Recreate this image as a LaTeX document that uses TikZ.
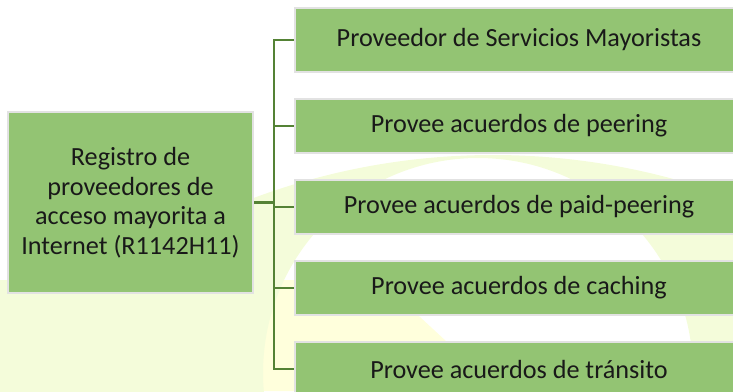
\documentclass[tikz,border=0pt]{standalone}
\usepackage{fontspec}
\setmainfont{Carlito}
\definecolor{boxgreen}{RGB}{147,196,115}
\definecolor{boxedge}{RGB}{226,226,226}
\definecolor{linegreen}{RGB}{84,130,53}
\definecolor{wmpale}{RGB}{244,252,218}
\definecolor{wmband}{RGB}{234,247,220}
\definecolor{wmyellow}{RGB}{255,255,220}
\begin{document}
\begin{tikzpicture}[x=1pt,y=-1pt]
\tikzstyle{b} = [rectangle, fill=boxgreen, draw=boxedge, line width=2pt, inner sep=0pt, text=black!90, font=\fontsize{26.2}{29.5}\selectfont]
\tikzstyle{p} = [b, minimum width=448pt, minimum height=54pt]
\tikzstyle{e} = [draw=linegreen, line width=2.3pt]

\useasboundingbox (0,0) rectangle (733,391);
\clip (0,0) rectangle (733,391);

% faint logo in the background
\fill[wmpale] (0,280) -- (250,280) -- (205,391) -- (0,391) -- cycle;
\fill[wmband] (250,280) -- (264,280) -- (224,391) -- (205,391) -- cycle;
\fill[wmyellow] (264,280) -- (380,280) -- (500,391) -- (224,391) -- cycle;
\fill[wmpale, even odd rule] (493,840) circle (685pt) (478,373) circle (215pt);

\node[b, minimum width=245pt, minimum height=181pt, align=center] (reg) at (130.5, 202.5)
  {Registro de\\proveedores de\\acceso mayorita a\\Internet (R1142H11)};

\node[p, minimum height=64pt] (p1) at (519, 40) {Proveedor de Servicios Mayoristas};
\node[p] (p2) at (519, 126) {Provee acuerdos de peering};
\node[p] (p3) at (519, 207) {Provee acuerdos de paid-peering};
\node[p] (p4) at (519, 288) {Provee acuerdos de caching};
\node[p] (p5) at (519, 369) {Provee acuerdos de tránsito};

\draw[e] (reg.east) -- ++(20,0) |- (p1.west);
\draw[e] (reg.east) -- ++(20,0) |- (p2.west);
\draw[e] (reg.east) -- ++(20,0) |- (p3.west);
\draw[e] (reg.east) -- ++(20,0) |- (p4.west);
\draw[e] (reg.east) -- ++(20,0) |- (p5.west);
\end{tikzpicture}
\end{document}
